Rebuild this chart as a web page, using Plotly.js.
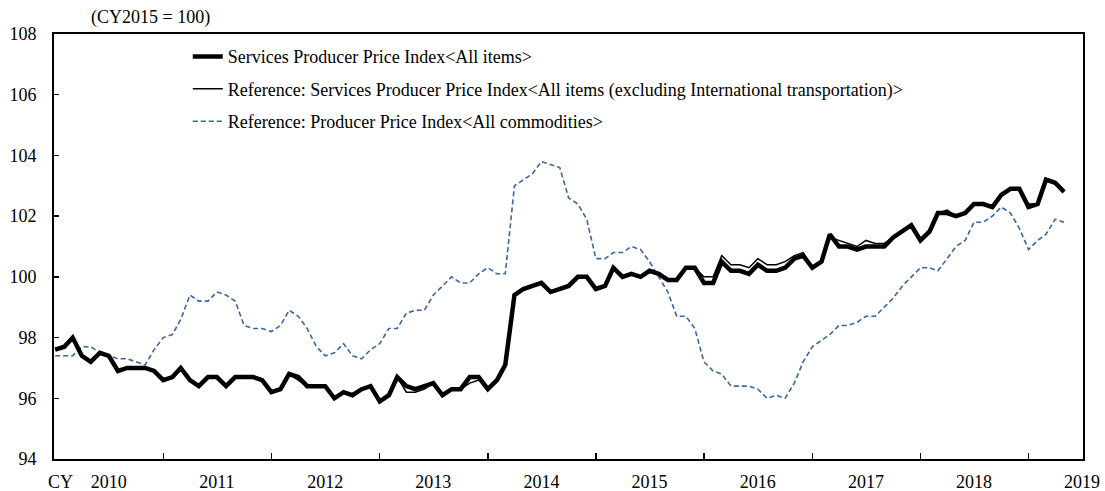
<!DOCTYPE html>
<html>
<head>
<meta charset="utf-8">
<script src="https://cdn.plot.ly/plotly-3.0.1.min.js"></script>
<style>html,body{margin:0;padding:0;background:#fff;}#chart{width:1105px;height:491px;}</style>
</head>
<body>
<div id="chart"></div>
<script>
// Monthly data, Jan 2010 .. May 2019 (CY2015 = 100)
var startYear = 2010;
var yearLabels = ["2010","2011","2012","2013","2014","2015","2016","2017","2018","2019"];

var sppiAll = [
  97.6, 97.7, 98.0, 97.4, 97.2, 97.5, 97.4, 96.9, 97.0, 97.0, 97.0, 96.9,
  96.6, 96.7, 97.0, 96.6, 96.4, 96.7, 96.7, 96.4, 96.7, 96.7, 96.7, 96.6,
  96.2, 96.3, 96.8, 96.7, 96.4, 96.4, 96.4, 96.0, 96.2, 96.1, 96.3, 96.4,
  95.9, 96.1, 96.7, 96.4, 96.3, 96.4, 96.5, 96.1, 96.3, 96.3, 96.7, 96.7,
  96.3, 96.6, 97.1, 99.4, 99.6, 99.7, 99.8, 99.5, 99.6, 99.7, 100.0, 100.0,
  99.6, 99.7, 100.3, 100.0, 100.1, 100.0, 100.2, 100.1, 99.9, 99.9, 100.3, 100.3,
  99.8, 99.8, 100.5, 100.2, 100.2, 100.1, 100.4, 100.2, 100.2, 100.3, 100.6, 100.7,
  100.3, 100.5, 101.4, 101.0, 101.0, 100.9, 101.0, 101.0, 101.0, 101.3, 101.5, 101.7,
  101.2, 101.5, 102.1, 102.1, 102.0, 102.1, 102.4, 102.4, 102.3, 102.7, 102.9, 102.9,
  102.3, 102.4, 103.2, 103.1, 102.8
];

var sppiExIntl = [
  97.6, 97.7, 98.0, 97.4, 97.2, 97.5, 97.4, 96.9, 97.0, 97.0, 97.0, 96.9,
  96.6, 96.7, 97.0, 96.6, 96.4, 96.7, 96.7, 96.4, 96.7, 96.7, 96.7, 96.6,
  96.2, 96.3, 96.8, 96.6, 96.4, 96.4, 96.4, 96.0, 96.2, 96.1, 96.3, 96.4,
  95.9, 96.1, 96.7, 96.2, 96.2, 96.3, 96.5, 96.1, 96.3, 96.3, 96.5, 96.6,
  96.3, 96.6, 97.1, 99.4, 99.6, 99.7, 99.8, 99.5, 99.6, 99.7, 100.0, 100.0,
  99.6, 99.7, 100.3, 100.0, 100.1, 100.0, 100.2, 100.1, 99.9, 99.9, 100.3, 100.3,
  100.0, 100.0, 100.7, 100.4, 100.4, 100.3, 100.6, 100.4, 100.4, 100.5, 100.7, 100.8,
  100.3, 100.5, 101.3, 101.2, 101.1, 101.0, 101.2, 101.1, 101.1, 101.3, 101.5, 101.7,
  101.2, 101.5, 102.1, 102.2, 102.0, 102.1, 102.4, 102.4, 102.3, 102.7, 102.9, 102.9,
  102.4, 102.4, 103.2, 103.1, 102.8
];

var ppiAll = [
  97.4, 97.4, 97.4, 97.7, 97.7, 97.5, 97.4, 97.3, 97.3, 97.2, 97.1, 97.6,
  98.0, 98.1, 98.6, 99.4, 99.2, 99.2, 99.5, 99.4, 99.2, 98.4, 98.3, 98.3,
  98.2, 98.4, 98.9, 98.7, 98.3, 97.7, 97.4, 97.5, 97.8, 97.4, 97.3, 97.6,
  97.8, 98.3, 98.3, 98.8, 98.9, 98.9, 99.4, 99.7, 100.0, 99.8, 99.8, 100.1,
  100.3, 100.1, 100.1, 103.0, 103.2, 103.4, 103.8, 103.7, 103.6, 102.6, 102.4, 101.9,
  100.6, 100.6, 100.8, 100.8, 101.0, 100.9, 100.5, 100.0, 99.5, 98.7, 98.7, 98.3,
  97.2, 96.9, 96.8, 96.4, 96.4, 96.4, 96.3, 96.0, 96.1, 96.0, 96.5, 97.2,
  97.7, 97.9, 98.1, 98.4, 98.4, 98.5, 98.7, 98.7, 99.0, 99.3, 99.7, 100.0,
  100.3, 100.3, 100.2, 100.6, 101.0, 101.2, 101.8, 101.8, 102.0, 102.3, 102.1, 101.6,
  100.9, 101.2, 101.4, 101.9, 101.8
];

var seriesNames = [
  "Services Producer Price Index<All items>",
  "Reference: Services Producer Price Index<All items (excluding International transportation)>",
  "Reference: Producer Price Index<All commodities>"
];

// month dates for categories
var months = [];
for (var i = 0; i < sppiAll.length; i++) {
  var y = startYear + Math.floor(i / 12);
  var m = (i % 12) + 1;
  months.push(y + "-" + (m < 10 ? "0" + m : m) + "-01");
}
var labelDates = yearLabels.map(function (yy) { return yy + "-07-01"; });
var boundaryDates = yearLabels.slice(1).map(function (yy) { return yy + "-01-01"; });

var FONT = "Liberation Serif, Times New Roman, serif";

var traces = [
  {
    x: months, y: ppiAll, name: seriesNames[2], type: "scatter", mode: "lines",
    line: {color: "#3B679E", width: 1.6, dash: "5px,3px"},
    legendgroup: "c", legendrank: 3
  },
  {
    x: months, y: sppiAll, name: seriesNames[0], type: "scatter", mode: "lines",
    line: {color: "#000000", width: 4.5},
    legendgroup: "a", legendrank: 1
  },
  {
    x: months, y: sppiExIntl, name: seriesNames[1], type: "scatter", mode: "lines",
    line: {color: "#000000", width: 1.5},
    legendgroup: "b", legendrank: 2
  }
];

var layout = {
  width: 1105, height: 491, autosize: false,
  margin: {l: 54, r: 22, t: 34, b: 32, pad: 0},
  paper_bgcolor: "#ffffff", plot_bgcolor: "#ffffff",
  font: {family: FONT, size: 18, color: "#000000"},
  showlegend: true,
  legend: {
    x: 0.13, y: 0.99, xanchor: "left", yanchor: "top",
    bgcolor: "rgba(0,0,0,0)", borderwidth: 0,
    traceorder: "grouped", tracegroupgap: 6,
    font: {family: FONT, size: 18, color: "#000000"}
  },
  xaxis: {
    type: "date",
    range: ["2009-12-28", "2019-07-04"],
    tickmode: "array", tickvals: labelDates, ticktext: yearLabels,
    ticks: "", showgrid: false, zeroline: false,
    showline: true, linecolor: "#000000", linewidth: 2, mirror: true,
    ticklabelstandoff: 5,
    tickfont: {family: FONT, size: 18, color: "#000000"},
    minor: {
      tickmode: "array", tickvals: boundaryDates,
      ticks: "inside", ticklen: 6, tickwidth: 1.5, tickcolor: "#000000",
      showgrid: false
    },
    fixedrange: true
  },
  yaxis: {
    range: [94, 108], tickmode: "linear", tick0: 94, dtick: 2,
    ticks: "inside", ticklen: 5, tickwidth: 1.5, tickcolor: "#000000",
    showgrid: false, zeroline: false,
    showline: true, linecolor: "#000000", linewidth: 2, mirror: true,
    ticklabelstandoff: 12,
    tickfont: {family: FONT, size: 18, color: "#000000"},
    fixedrange: true
  },
  annotations: [
    {text: "(CY2015 = 100)", xref: "paper", yref: "paper", x: 0.094, y: 1.038,
     xanchor: "center", yanchor: "middle", showarrow: false,
     font: {family: FONT, size: 18, color: "#000000"}},
    {text: "CY", xref: "paper", yref: "paper", x: 0.006, y: -0.054,
     xanchor: "center", yanchor: "middle", showarrow: false,
     font: {family: FONT, size: 18, color: "#000000"}}
  ]
};

Plotly.newPlot("chart", traces, layout, {displayModeBar: false, staticPlot: true});
</script>
</body>
</html>
